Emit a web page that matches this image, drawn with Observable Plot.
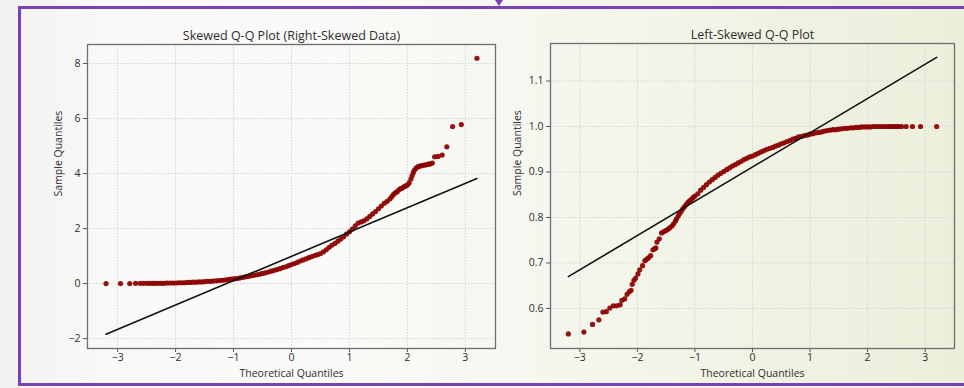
<!DOCTYPE html>
<html>
<head>
<meta charset="utf-8">
<script src="https://cdn.jsdelivr.net/npm/d3@7"></script>
<script src="https://cdn.jsdelivr.net/npm/@observablehq/plot@0.6"></script>
<style>
  html, body { margin: 0; padding: 0; }
  body { width: 964px; height: 388px; overflow: hidden; position: relative;
         background: linear-gradient(90deg, #f1f1f0 0%, #f8f8f6 10%, #fafaf8 35%, #f4f6ec 62%, #ebefda 100%);
         font-family: "Open Sans", Roboto, sans-serif; }
  #frame { position: absolute; left: 18px; top: 6px; width: 1000px; height: 374px;
           border-top: 3px solid #7b3fb8; border-left: 3px solid #7b3fb8; border-bottom: 3px solid #7b3fb8; }
  #notch { position: absolute; left: 495px; top: 0px; width: 0; height: 0;
           border-left: 4px solid transparent; border-right: 4px solid transparent; border-top: 6px solid #7b3fb8; }
  .panel { position: absolute; top: 0; }
</style>
</head>
<body>
<div id="frame"></div>
<div id="notch"></div>
<div id="left" class="panel" style="left:0px"></div>
<div id="right" class="panel" style="left:500px"></div>
<script>
// ---- Right-skewed panel: theoretical quantiles and sample quantiles ----
const leftQx = [-3.20,-2.95,-2.79,-2.69,-2.61,-2.55,-2.49,-2.44,-2.39,-2.35,
  -2.30,-2.25,-2.20,-2.15,-2.10,-2.05,-2.00,-1.95,-1.90,-1.85,-1.80,-1.75,-1.70,-1.65,-1.60,-1.55,-1.50,-1.45,-1.40,-1.35,
  -1.30,-1.25,-1.20,-1.15,-1.10,-1.05,-1.00,-0.95,-0.90,-0.85,-0.80,-0.75,-0.70,-0.65,-0.60,-0.55,-0.50,-0.45,-0.40,-0.35,
  -0.30,-0.25,-0.20,-0.15,-0.10,-0.05,0.00,0.05,0.10,0.15,0.20,0.25,0.30,0.35,0.40,0.45,0.50,0.55,0.60,0.65,
  0.70,0.75,0.80,0.85,0.90,0.95,1.00,1.05,1.10,1.15,1.20,1.25,1.30,1.35,1.40,1.45,1.50,1.55,1.60,1.65,
  1.70,1.73,1.76,1.79,1.82,1.85,1.88,1.91,1.94,1.97,2.00,2.03,2.06,2.08,2.10,2.12,2.15,2.18,2.21,2.24,
  2.27,2.30,2.33,2.36,2.39,2.43,2.47,2.53,2.60,2.68,2.78,2.93,3.20];
const leftQy = [0.00,0.00,0.00,0.01,0.01,0.01,0.01,0.01,0.01,0.01,
  0.01,0.01,0.01,0.02,0.02,0.02,0.02,0.03,0.03,0.03,0.04,0.04,0.05,0.05,0.06,0.06,0.07,0.08,0.08,0.09,
  0.10,0.11,0.12,0.13,0.14,0.16,0.17,0.18,0.20,0.22,0.24,0.26,0.28,0.30,0.32,0.34,0.37,0.39,0.42,0.45,
  0.48,0.51,0.54,0.58,0.61,0.65,0.69,0.73,0.77,0.82,0.86,0.90,0.94,0.98,1.02,1.05,1.09,1.15,1.23,1.32,
  1.40,1.46,1.54,1.62,1.70,1.80,1.88,1.98,2.10,2.20,2.24,2.28,2.35,2.44,2.53,2.62,2.72,2.82,2.92,2.99,
  3.08,3.16,3.24,3.30,3.33,3.40,3.45,3.47,3.52,3.55,3.58,3.66,3.80,3.92,4.03,4.12,4.20,4.24,4.27,4.28,
  4.30,4.31,4.32,4.34,4.35,4.38,4.61,4.62,4.67,4.97,5.71,5.78,8.19];
const leftLineX = [-3.2, 3.2];
const leftLineY = [-1.84, 3.82];
const leftYTicks = [-2, 0, 2, 4, 6, 8];

// ---- Left-skewed panel ----
const rightQx = [-3.20,-2.93,-2.78,-2.67,-2.60,-2.54,-2.48,-2.42,-2.36,-2.30,
  -2.27,-2.22,-2.18,-2.14,-2.11,-2.09,-2.06,-2.03,-1.99,-1.96,-1.91,-1.87,-1.84,-1.81,-1.77,-1.73,-1.70,-1.68,-1.66,-1.62,
  -1.58,-1.54,-1.51,-1.47,-1.44,-1.40,-1.37,-1.34,-1.32,-1.29,-1.27,-1.24,-1.21,-1.18,-1.15,-1.12,-1.09,-1.06,-1.03,-1.00,
  -0.95,-0.90,-0.85,-0.80,-0.75,-0.70,-0.65,-0.60,-0.55,-0.50,-0.45,-0.40,-0.35,-0.30,-0.25,-0.20,-0.15,-0.10,-0.05,0.00,
  0.05,0.10,0.15,0.20,0.25,0.30,0.35,0.40,0.45,0.50,0.55,0.60,0.65,0.70,0.75,0.80,0.85,0.90,0.95,1.00,
  1.05,1.10,1.15,1.20,1.25,1.30,1.35,1.40,1.45,1.50,1.55,1.60,1.65,1.70,1.75,1.80,1.85,1.90,1.95,2.00,
  2.05,2.10,2.15,2.20,2.25,2.30,2.35,2.39,2.43,2.47,2.51,2.54,2.59,2.67,2.78,2.92,3.20];
const rightQy = [0.544,0.548,0.565,0.575,0.592,0.593,0.601,0.606,0.606,0.608,
  0.618,0.621,0.631,0.637,0.640,0.653,0.662,0.667,0.676,0.685,0.694,0.705,0.708,0.711,0.716,0.729,0.731,0.733,0.746,0.753,
  0.766,0.769,0.771,0.774,0.777,0.781,0.786,0.792,0.797,0.803,0.808,0.813,0.819,0.824,0.829,0.833,0.837,0.840,0.844,0.847,
  0.852,0.860,0.866,0.872,0.878,0.883,0.888,0.893,0.897,0.901,0.905,0.909,0.913,0.916,0.920,0.923,0.927,0.930,0.933,0.935,
  0.938,0.941,0.944,0.947,0.950,0.952,0.954,0.957,0.959,0.962,0.964,0.967,0.969,0.972,0.974,0.977,0.978,0.980,0.981,0.983,
  0.984,0.986,0.987,0.988,0.990,0.991,0.992,0.993,0.993,0.994,0.995,0.996,0.996,0.997,0.997,0.998,0.998,0.999,0.999,0.999,
  0.999,1.000,1.000,1.000,1.000,1.000,1.000,1.000,1.000,1.000,1.000,1.000,1.000,1.000,1.000,1.000,1.000];
const rightLineX = [-3.2, 3.2];
const rightLineY = [0.670, 1.152];
const rightYTicks = [0.6, 0.7, 0.8, 0.9, 1.0, 1.1];

const xTicks = [-3, -2, -1, 0, 1, 2, 3];
const titles = ["Skewed Q-Q Plot (Right-Skewed Data)", "Left-Skewed Q-Q Plot"];
const xLabel = "Theoretical Quantiles";
const yLabel = "Sample Quantiles";

const FONT = "'Open Sans', Roboto, sans-serif";
const TXT = "#2e2e2e";
const DOT = "#8b0000";

function panel({qx, qy, lx, ly, yTicks, yFmt, title, width, ml, mr, mt, mb, xDom, yDom, ylabDx}) {
  const pts = qx.map((x, i) => ({x, y: qy[i]}));
  const line = lx.map((x, i) => ({x, y: ly[i]}));
  return Plot.plot({
    width, height: 388,
    marginLeft: ml, marginRight: mr, marginTop: mt, marginBottom: mb,
    style: {background: "transparent", fontFamily: FONT, fontSize: "10.5px", color: TXT},
    x: {domain: xDom},
    y: {domain: yDom},
    marks: [
      Plot.gridX(xTicks, {stroke: "#d4d4d4", strokeOpacity: 1, strokeDasharray: "1.5,1.5"}),
      Plot.gridY(yTicks, {stroke: "#d4d4d4", strokeOpacity: 1, strokeDasharray: "1.5,1.5"}),
      Plot.axisX(xTicks, {tickSize: 4, tickPadding: 1, label: null, fontSize: 10.5, stroke: "#555", fill: TXT}),
      Plot.axisY(yTicks, {tickSize: 4, tickPadding: 3, label: null, fontSize: 10.5, stroke: "#555", fill: TXT, tickFormat: yFmt}),
      Plot.dot(pts, {x: "x", y: "y", r: 2.6, fill: DOT, fillOpacity: 0.92}),
      Plot.line(line, {x: "x", y: "y", stroke: "#111", strokeWidth: 1.6}),
      Plot.frame({stroke: "#6e6e6e", strokeWidth: 1.3}),
      Plot.text([title], {frameAnchor: "top", lineAnchor: "middle", dy: -9, fontSize: 12.5, fill: TXT}),
      Plot.text([xLabel], {frameAnchor: "bottom", lineAnchor: "middle", dy: 25, fontSize: 10.5, fill: TXT}),
      Plot.text([yLabel], {frameAnchor: "left", lineAnchor: "middle", dx: ylabDx, rotate: -90, fontSize: 10.5, fill: TXT})
    ]
  });
}

document.getElementById("left").append(panel({
  qx: leftQx, qy: leftQy, lx: leftLineX, ly: leftLineY, yTicks: leftYTicks, yFmt: d3.format("d"),
  title: titles[0], width: 520, ml: 87, mr: 25, mt: 44, mb: 40,
  xDom: [-3.52, 3.52], yDom: [-2.36, 8.69], ylabDx: -29
}));
document.getElementById("right").append(panel({
  qx: rightQx, qy: rightQy, lx: rightLineX, ly: rightLineY, yTicks: rightYTicks, yFmt: d3.format(".1f"),
  title: titles[1], width: 464, ml: 50, mr: 10, mt: 43, mb: 40,
  xDom: [-3.51, 3.51], yDom: [0.512, 1.1824], ylabDx: -33
}));
</script>
</body>
</html>
